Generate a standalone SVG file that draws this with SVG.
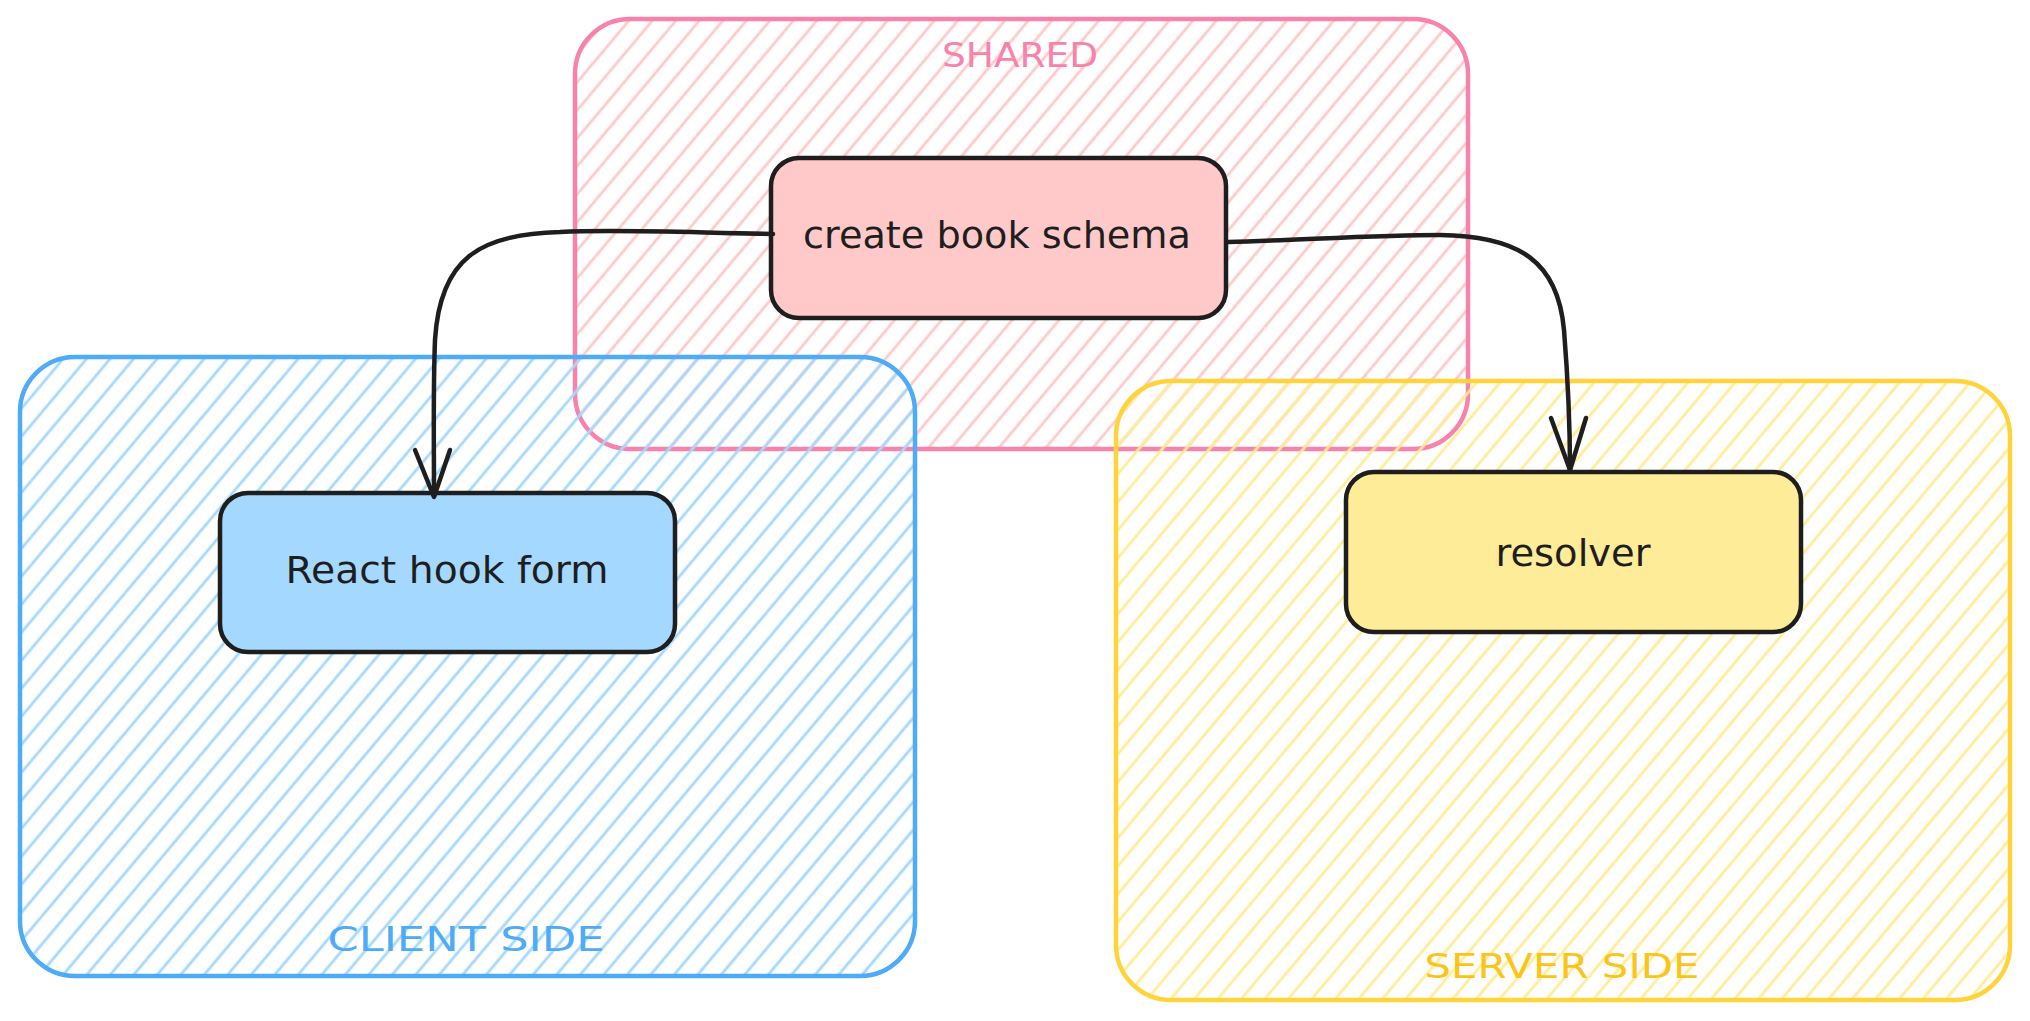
<svg xmlns="http://www.w3.org/2000/svg" width="2030" height="1021" viewBox="0 0 2030 1021">
<defs>
<pattern id="hPink" patternUnits="userSpaceOnUse" width="18" height="18" patternTransform="rotate(40)">
<line x1="9" y1="-1" x2="9" y2="19" stroke="#ffc9c9" stroke-width="2.8"/>
</pattern>
<pattern id="hBlue" patternUnits="userSpaceOnUse" width="18" height="18" patternTransform="rotate(40)">
<line x1="9" y1="-1" x2="9" y2="19" stroke="#a5d8ff" stroke-width="2.8"/>
</pattern>
<pattern id="hYellow" patternUnits="userSpaceOnUse" width="18" height="18" patternTransform="rotate(40)">
<line x1="9" y1="-1" x2="9" y2="19" stroke="#ffec99" stroke-width="2.8"/>
</pattern>
<style>
.frame{stroke-width:4.5;stroke-linejoin:round}
.node{stroke:#1e1e1e;stroke-width:4.5}
.lbl{font-family:"DejaVu Sans","Liberation Sans",sans-serif;font-size:38px;fill:#1e1e1e;text-anchor:middle}
.cap{font-family:"DejaVu Sans","Liberation Sans",sans-serif;font-size:34px;text-anchor:middle}
.conn{fill:none;stroke:#1e1e1e;stroke-width:4.5;stroke-linecap:round;stroke-linejoin:round}
</style>
</defs>
<rect width="2030" height="1021" fill="#ffffff"/>

<g id="shared">
<rect class="frame" x="575" y="19" width="893" height="430" rx="55" fill="url(#hPink)" stroke="#f783ac"/>
<text class="cap" x="1020" y="67" fill="#f783ac" textLength="156" lengthAdjust="spacingAndGlyphs">SHARED</text>
</g>

<g id="client-side">
<rect class="frame" x="20" y="357" width="895" height="619" rx="55" fill="url(#hBlue)" stroke="#4dabf7"/>
<text class="cap" x="466" y="951" fill="#4dabf7" textLength="277" lengthAdjust="spacingAndGlyphs">CLIENT SIDE</text>
</g>

<g id="server-side">
<rect class="frame" x="1116" y="381" width="894" height="619" rx="55" fill="url(#hYellow)" stroke="#ffd43b"/>
<text class="cap" x="1562" y="978" fill="#fcc419" textLength="275" lengthAdjust="spacingAndGlyphs">SERVER SIDE</text>
</g>

<g id="create-book-schema">
<rect class="node" x="771" y="158" width="455" height="160" rx="28" fill="#ffc9c9"/>
<text class="lbl" x="997" y="248" textLength="388" lengthAdjust="spacingAndGlyphs">create book schema</text>
</g>

<g id="react-hook-form">
<rect class="node" x="220" y="493" width="455" height="159" rx="28" fill="#a5d8ff"/>
<text class="lbl" x="447" y="583" textLength="323" lengthAdjust="spacingAndGlyphs">React hook form</text>
</g>

<g id="resolver">
<rect class="node" x="1346" y="472" width="455" height="160" rx="28" fill="#ffec99"/>
<text class="lbl" x="1573" y="566" textLength="155" lengthAdjust="spacingAndGlyphs">resolver</text>
</g>

<g id="connectors">
<path class="conn" d="M 773 234 C 700 233, 620 229, 560 232 C 480 234, 440 258, 435 340 C 433 390, 434 440, 434 496"/>
<path class="conn" d="M 415 450 L 434 497 L 450 450"/>
<path class="conn" d="M 1228 242 C 1300 240, 1380 235, 1440 235 C 1520 236, 1558 262, 1564 330 C 1568 380, 1570 430, 1570 470"/>
<path class="conn" d="M 1551 418 L 1570 470 L 1586 418"/>
</g>
</svg>
